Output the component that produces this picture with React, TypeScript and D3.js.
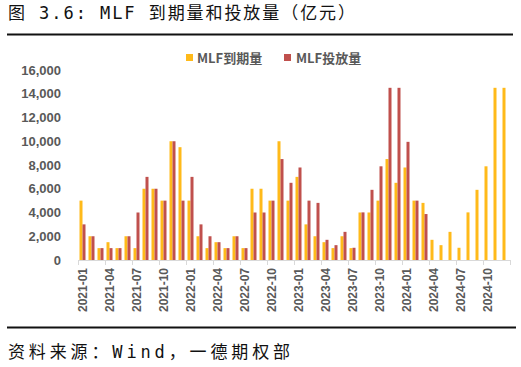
import * as d3 from "d3";
import { useEffect } from "react";

const months = [
  "2021-01", "2021-02", "2021-03", "2021-04", "2021-05", "2021-06",
  "2021-07", "2021-08", "2021-09", "2021-10", "2021-11", "2021-12",
  "2022-01", "2022-02", "2022-03", "2022-04", "2022-05", "2022-06",
  "2022-07", "2022-08", "2022-09", "2022-10", "2022-11", "2022-12",
  "2023-01", "2023-02", "2023-03", "2023-04", "2023-05", "2023-06",
  "2023-07", "2023-08", "2023-09", "2023-10", "2023-11", "2023-12",
  "2024-01", "2024-02", "2024-03", "2024-04", "2024-05", "2024-06",
  "2024-07", "2024-08", "2024-09", "2024-10", "2024-11", "2024-12",
];

// MLF到期量
const expiry = [
  5000, 2000, 1000, 1500, 1000, 2000, 1000, 6000, 6000, 5000, 10000, 9500,
  5000, 2000, 1000, 1500, 1000, 2000, 1000, 6000, 6000, 5000, 10000, 5000,
  7000, 3000, 2000, 1500, 1000, 2000, 1000, 4000, 4000, 5000, 8500, 6500,
  7790, 5000, 4810, 1700, 1250, 2370, 1030, 4010, 5910, 7890, 14500, 14500,
];

// MLF投放量
const issue: (number | null)[] = [
  3000, 2000, 1000, 1000, 1000, 2000, 4000, 7000, 6000, 5000, 10000, 5000,
  7000, 3000, 2000, 1500, 1000, 2000, 1000, 4000, 4000, 5000, 8500, 6500,
  7790, 5000, 4810, 1700, 1250, 2370, 1030, 4010, 5910, 7890, 14500, 14500,
  9950, 5000, 3870, null, null, null, null, null, null, null, null, null,
];

const yTicks = [0, 2000, 4000, 6000, 8000, 10000, 12000, 14000, 16000];

const YELLOW = "#FFBA1A";
const RED = "#C0504D";
const TEXT = "#595959";
const CJK = "'Noto Sans CJK SC', sans-serif";
const MONO = "'DejaVu Sans Mono', monospace";

function App() {
  useEffect(() => {
    document.body.style.margin = "0";
  }, []);

  const x = d3.scaleBand<string>().domain(months).range([78, 510]);
  const y = d3.scaleLinear().domain([0, 16000]).range([260, 70]);
  const fmt = d3.format(",");
  const bw = 3;

  return (
    <svg width={521} height={367} style={{ display: "block", background: "#fff" }}>
      {/* title */}
      <text x={8} y={19} fontFamily={CJK} fontSize={17} fill="#111" textLength={347} lengthAdjust="spacing">
        图<tspan fontFamily={MONO}> 3.6: MLF </tspan>到期量和投放量（亿元）
      </text>
      <line x1={7} x2={513} y1={34.5} y2={34.5} stroke="#111" strokeWidth={2} />

      {/* legend */}
      <rect x={186} y={54} width={7} height={7} fill={YELLOW} />
      <text x={197} y={62.5} fontFamily={CJK} fontWeight="bold" fontSize={13} fill={TEXT}>
        MLF到期量
      </text>
      <rect x={284} y={54} width={7} height={7} fill={RED} />
      <text x={296} y={62.5} fontFamily={CJK} fontWeight="bold" fontSize={13} fill={TEXT}>
        MLF投放量
      </text>

      {/* y axis labels */}
      {yTicks.map((t) => (
        <text
          key={t}
          x={61}
          y={y(t)}
          dy="0.35em"
          textAnchor="end"
          fontFamily="'Liberation Sans', Arial, sans-serif"
          fontWeight="bold"
          fontSize={13}
          fill={TEXT}
        >
          {fmt(t)}
        </text>
      ))}

      {/* bars */}
      {months.map((m, i) => {
        const cx = (x(m) ?? 0) + x.bandwidth() / 2;
        const v2 = issue[i];
        return (
          <g key={m}>
            <rect x={cx - bw} y={y(expiry[i])} width={bw} height={y(0) - y(expiry[i])} fill={YELLOW} />
            {v2 != null && <rect x={cx} y={y(v2)} width={bw} height={y(0) - y(v2)} fill={RED} />}
          </g>
        );
      })}

      {/* x axis */}
      <line x1={78} x2={510} y1={260.5} y2={260.5} stroke="#d9d9d9" strokeWidth={1} />
      {months.map((m, i) =>
        i % 3 === 0 ? (
          <line
            key={"t" + m}
            x1={Math.round(x(m) ?? 0) + 0.5}
            x2={Math.round(x(m) ?? 0) + 0.5}
            y1={260}
            y2={265}
            stroke="#d9d9d9"
          />
        ) : null
      )}
      <line x1={510.5} x2={510.5} y1={260} y2={265} stroke="#d9d9d9" />
      {months.map((m, i) =>
        i % 3 === 0 ? (
          <text
            key={"l" + m}
            transform={`translate(${(x(m) ?? 0) + x.bandwidth() / 2 + 4},268) rotate(-90)`}
            textAnchor="end"
            fontFamily="'Liberation Sans', Arial, sans-serif"
            fontWeight="bold"
            fontSize={12}
            fill={TEXT}
          >
            {m}
          </text>
        ) : null
      )}

      {/* footer */}
      <line x1={7} x2={516} y1={327.5} y2={327.5} stroke="#111" strokeWidth={2} />
      <text x={8} y={358} fontFamily={CJK} fontSize={17} fill="#111" textLength={282} lengthAdjust="spacing">
        资料来源：<tspan fontFamily={MONO}>Wind</tspan>，一德期权部
      </text>
    </svg>
  );
}

export default App;
